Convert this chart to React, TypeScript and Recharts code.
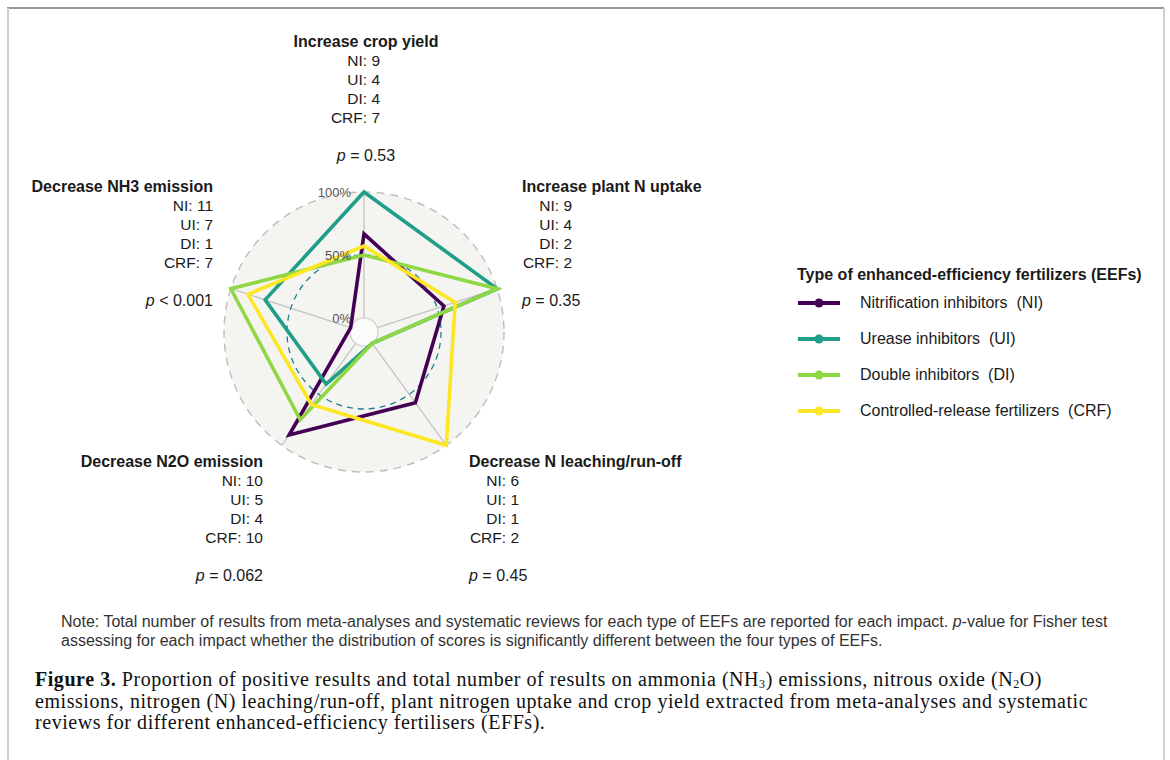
import React from 'react';
import { RadarChart, Radar, PolarAngleAxis, PolarRadiusAxis, Legend } from 'recharts';

const impacts = [
  'Increase crop yield',
  'Increase plant N uptake',
  'Decrease N leaching/run-off',
  'Decrease N2O emission',
  'Decrease NH3 emission',
];

// share of positive results (%) per impact, same order as impacts
const niShare = [66.7, 55.6, 58.3, 90, 0];
const uiShare = [100, 100, 0, 40, 71.4];
const diShare = [50, 100, 0, 75, 100];
const crfShare = [57.1, 65, 100, 60, 85.7];

// number of results per impact
const niCount = [9, 9, 6, 10, 11];
const uiCount = [4, 4, 1, 5, 7];
const diCount = [4, 2, 1, 4, 1];
const crfCount = [7, 2, 2, 10, 7];

const pValues = ['= 0.53', '= 0.35', '= 0.45', '= 0.062', '< 0.001'];

const seriesKeys = ['NI', 'UI', 'DI', 'CRF'];
const seriesNames = [
  'Nitrification inhibitors',
  'Urease inhibitors',
  'Double inhibitors',
  'Controlled-release fertilizers',
];
const seriesColors = ['#440154', '#1F9E89', '#8FD744', '#FDE725'];

const radiusTicks = [0, 50, 100];
const radiusDomain = [-100 / 9, 100];

const data = impacts.map((impact, i) => ({
  impact,
  NI: niShare[i],
  UI: uiShare[i],
  DI: diShare[i],
  CRF: crfShare[i],
}));
const counts = [niCount, uiCount, diCount, crfCount];

const W = 1170;
const H = 760;
const CX = 364;
const CY = 332;
const R = 140;
const SANS = '"Liberation Sans", Arial, sans-serif';
const SERIF = '"Liberation Serif", "Times New Roman", serif';

const rOf = (v: number) => ((v - radiusDomain[0]) / (radiusDomain[1] - radiusDomain[0])) * R;

// where each impact's text block sits around the radar
const blocks = [
  { y: 42, head: [366, 'center'], num: [380, 'right'], p: [366, 'center'] },
  { y: 187, head: [522, 'left'], num: [572, 'right'], p: [522, 'left'] },
  { y: 462, head: [469, 'left'], num: [519, 'right'], p: [469, 'left'] },
  { y: 462, head: [263, 'right'], num: [263, 'right'], p: [263, 'right'] },
  { y: 187, head: [213, 'right'], num: [213, 'right'], p: [213, 'right'] },
] as const;

function Txt({
  x,
  y,
  align,
  bold,
  size = 14,
  lineH = 18,
  spacing = 0,
  color = '#1a1a1a',
  family = SANS,
  children,
}: {
  x: number;
  y: number;
  align: 'left' | 'right' | 'center';
  bold?: boolean;
  size?: number;
  lineH?: number;
  spacing?: number;
  color?: string;
  family?: string;
  children: React.ReactNode;
}) {
  const style: React.CSSProperties = {
    position: 'absolute',
    top: y - lineH / 2,
    height: lineH,
    lineHeight: `${lineH}px`,
    whiteSpace: 'nowrap',
    fontSize: size,
    fontWeight: bold ? 700 : 400,
    letterSpacing: spacing,
    color,
    fontFamily: family,
  };
  if (align === 'left') style.left = x;
  else if (align === 'right') style.right = W - x;
  else {
    style.left = x;
    style.transform = 'translateX(-50%)';
  }
  return <div style={style}>{children}</div>;
}

const subStyle: React.CSSProperties = { fontSize: 12, position: 'relative', top: 2, lineHeight: 0 };

function RadiusTick(props: any) {
  const { x, y, payload } = props;
  return (
    <text x={x - 13} y={y} dy="0.35em" textAnchor="end" fontSize={13} fill="#555" fontFamily={SANS}>
      {payload.value}%
    </text>
  );
}

function LegendBox(props: any) {
  const payload = props.payload || [];
  return (
    <div style={{ fontFamily: SANS, color: '#1a1a1a' }}>
      <div style={{ fontSize: 16, fontWeight: 700, lineHeight: '20px', whiteSpace: 'nowrap' }}>
        Type of enhanced-efficiency fertilizers (EEFs)
      </div>
      {seriesKeys.map((key, i) => {
        const entry = payload.find((p: any) => p.dataKey === key);
        const color = entry?.color ?? seriesColors[i];
        return (
          <div key={key} style={{ height: 36, display: 'flex', alignItems: 'center', whiteSpace: 'nowrap' }}>
            <svg width={62} height={12} style={{ marginLeft: 1 }}>
              <line x1={0} y1={6} x2={42} y2={6} stroke={color} strokeWidth={4} />
              <circle cx={21} cy={6} r={4.5} fill={color} />
            </svg>
            <span style={{ fontSize: 16 }}>
              {seriesNames[i]}&nbsp; ({key})
            </span>
          </div>
        );
      })}
    </div>
  );
}

export default function App() {
  const angles = impacts.map((_, i) => ((90 - 72 * i) * Math.PI) / 180);
  const cap = { size: 20, lineH: 20, spacing: 0.55, family: SERIF, color: '#111' };
  return (
    <div style={{ position: 'absolute', left: 0, top: 0, width: W, height: H, background: '#fff', overflow: 'hidden' }}>
      {/* figure frame */}
      <div style={{ position: 'absolute', left: 7, top: 7, width: 1157, height: 2, background: '#999' }} />
      <div style={{ position: 'absolute', left: 7, top: 8, width: 2, height: H, background: '#cfcfcf' }} />
      <div style={{ position: 'absolute', left: 1163, top: 8, width: 2, height: H, background: '#cfcfcf' }} />

      {/* radar background */}
      <svg width={W} height={H} style={{ position: 'absolute', left: 0, top: 0 }}>
        <circle cx={CX} cy={CY} r={R} fill="#F4F4F1" stroke="#BDBDBD" strokeWidth={1.4} strokeDasharray="8 6" />
        {angles.map((a, i) => (
          <line
            key={i}
            x1={CX + rOf(0) * Math.cos(a)}
            y1={CY - rOf(0) * Math.sin(a)}
            x2={CX + R * Math.cos(a)}
            y2={CY - R * Math.sin(a)}
            stroke="#C4C4C4"
            strokeWidth={1.3}
          />
        ))}
        <circle cx={CX} cy={CY} r={rOf(50)} fill="none" stroke="#1D7F8E" strokeWidth={1.3} strokeDasharray="6 5" />
        <circle cx={CX} cy={CY} r={rOf(0)} fill="#FBFBFA" stroke="#CDCDCD" strokeWidth={1.2} />
      </svg>

      <div style={{ position: 'absolute', left: 0, top: 0 }}>
        <RadarChart
          width={W}
          height={H}
          data={data}
          cx={CX}
          cy={CY}
          outerRadius={R}
          margin={{ top: 0, right: 0, bottom: 0, left: 0 }}
        >
          <PolarAngleAxis dataKey="impact" tick={false} axisLine={false} tickLine={false} />
          <PolarRadiusAxis
            angle={90}
            type="number"
            domain={radiusDomain}
            ticks={radiusTicks}
            axisLine={false}
            tick={<RadiusTick />}
            allowDataOverflow
          />
          {seriesKeys.map((key, i) => (
            <Radar
              key={key}
              dataKey={key}
              name={`${seriesNames[i]} (${key})`}
              stroke={seriesColors[i]}
              strokeWidth={3.6}
              fill="none"
              fillOpacity={0}
              dot={{ r: 5.5, fill: seriesColors[i], stroke: 'none' }}
              isAnimationActive={false}
            />
          ))}
          <Legend
            layout="vertical"
            align="right"
            verticalAlign="top"
            content={<LegendBox />}
            wrapperStyle={{ left: 797, top: 265, right: 'auto', width: 365 }}
          />
        </RadarChart>
      </div>

      {/* impact annotations */}
      {impacts.map((impact, i) => {
        const b = blocks[i];
        return (
          <React.Fragment key={impact}>
            <Txt x={b.head[0]} y={b.y} align={b.head[1]} bold size={16}>
              {impact}
            </Txt>
            {seriesKeys.map((key, k) => (
              <Txt key={key} x={b.num[0]} y={b.y + 19 * (k + 1)} align={b.num[1]} size={15.5}>
                {key}: {counts[k][i]}
              </Txt>
            ))}
            <Txt x={b.p[0]} y={b.y + 19 * 6} align={b.p[1]} size={16}>
              <i>p</i> {pValues[i]}
            </Txt>
          </React.Fragment>
        );
      })}

      {/* note */}
      <Txt x={61} y={622} align="left" size={16} color="#333">
        Note: Total number of results from meta-analyses and systematic reviews for each type of EEFs are reported for
        each impact. <i>p</i>-value for Fisher test
      </Txt>
      <Txt x={61} y={641} align="left" size={16} color="#333">
        assessing for each impact whether the distribution of scores is significantly different between the four types
        of EEFs.
      </Txt>

      {/* caption */}
      <Txt x={35} y={679} align="left" {...cap}>
        <b>Figure 3.</b> Proportion of positive results and total number of results on ammonia (NH
        <span style={subStyle}>3</span>) emissions, nitrous oxide (N<span style={subStyle}>2</span>O)
      </Txt>
      <Txt x={35} y={701} align="left" {...cap}>
        emissions, nitrogen (N) leaching/run-off, plant nitrogen uptake and crop yield extracted from meta-analyses and
        systematic
      </Txt>
      <Txt x={35} y={722} align="left" {...cap}>
        reviews for different enhanced-efficiency fertilisers (EFFs).
      </Txt>
    </div>
  );
}
